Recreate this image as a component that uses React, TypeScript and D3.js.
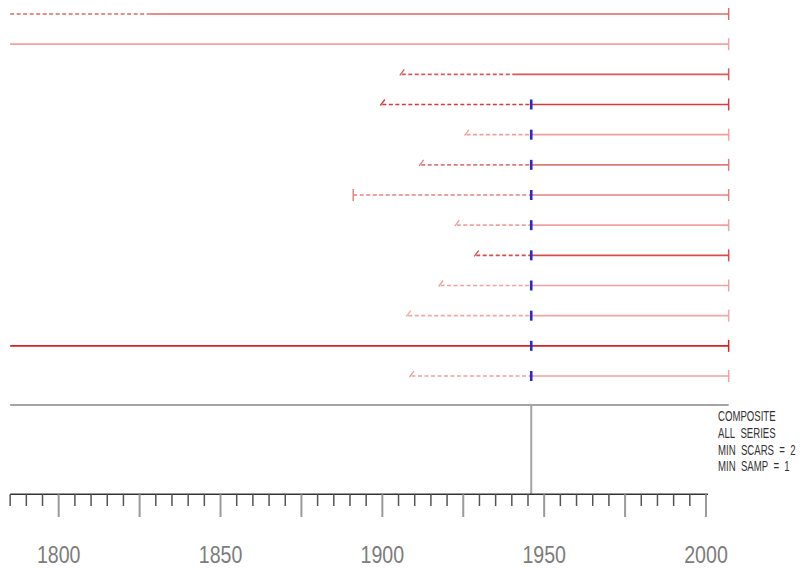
import React, { useRef, useEffect } from "react";
import * as d3 from "d3";

// fire history series, top to bottom
const innerYears = [1785, 1785, 1906, 1900, 1926, 1912, 1891, 1923, 1929, 1918, 1908, 1785, 1909];
const innerTypes = ["none", "none", "slash", "slash", "slash", "slash", "pith", "slash", "slash", "slash", "slash", "none", "slash"];
const recordingStart = [1828, 1785, 1941, 1946, 1946, 1946, 1946, 1946, 1946, 1946, 1946, 1785, 1946];
const outerYears = [2007, 2007, 2007, 2007, 2007, 2007, 2007, 2007, 2007, 2007, 2007, 2007, 2007];
const scarYears = [[], [], [], [1946], [1946], [1946], [1946], [1946], [1946], [1946], [1946], [1946], [1946]];
const compositeYears = [1946];
const compositeText = ["COMPOSITE", "ALL\u00a0\u00a0SERIES", "MIN\u00a0\u00a0SCARS\u00a0\u00a0=\u00a0\u00a02", "MIN\u00a0\u00a0SAMP\u00a0\u00a0=\u00a0\u00a01"];
const tickLabels = [1800, 1850, 1900, 1950, 2000];

const lineColors = ["#dc6868", "#f2a2a2", "#dc5858", "#d83a3a", "#f0a0a0", "#e07a7a", "#e48282",
  "#f0a0a0", "#d84c4c", "#f0a0a0", "#f2a6a6", "#d42222", "#f0a0a0"];

function FireChart() {
    const svgRef = useRef(null);

    useEffect(() => {
        const svg = d3.select(svgRef.current);
        svg.selectAll("*").remove();

        const x = d3.scaleLinear().domain([1800, 2000]).range([58.7, 706]);
        const y = d3.scalePoint().domain(d3.range(innerYears.length)).range([14, 376]);

        const rows = svg.selectAll("g.row")
            .data(innerYears.map((d, i) => i))
            .join("g")
            .attr("class", "row");

        // non-recording (dashed) part
        rows.filter((i) => recordingStart[i] > innerYears[i])
            .append("line")
            .attr("x1", (i) => x(innerYears[i]))
            .attr("x2", (i) => x(recordingStart[i]))
            .attr("y1", (i) => y(i))
            .attr("y2", (i) => y(i))
            .attr("stroke", (i) => lineColors[i])
            .attr("stroke-width", 1.6)
            .attr("stroke-dasharray", "4,2.5");

        // recording (solid) part
        rows.append("line")
            .attr("x1", (i) => x(recordingStart[i]))
            .attr("x2", (i) => x(outerYears[i]))
            .attr("y1", (i) => y(i))
            .attr("y2", (i) => y(i))
            .attr("stroke", (i) => lineColors[i])
            .attr("stroke-width", 1.6);

        // outer end cap
        rows.append("line")
            .attr("x1", (i) => x(outerYears[i]))
            .attr("x2", (i) => x(outerYears[i]))
            .attr("y1", (i) => y(i) - 6)
            .attr("y2", (i) => y(i) + 6)
            .attr("stroke", (i) => lineColors[i])
            .attr("stroke-width", 1.5);

        // inner ring marker
        rows.filter((i) => innerTypes[i] === "slash")
            .append("line")
            .attr("x1", (i) => x(innerYears[i]) - 2)
            .attr("x2", (i) => x(innerYears[i]) + 2.5)
            .attr("y1", (i) => y(i) + 1)
            .attr("y2", (i) => y(i) - 5)
            .attr("stroke", (i) => lineColors[i])
            .attr("stroke-width", 1.3);

        // pith marker
        rows.filter((i) => innerTypes[i] === "pith")
            .append("line")
            .attr("x1", (i) => x(innerYears[i]))
            .attr("x2", (i) => x(innerYears[i]))
            .attr("y1", (i) => y(i) - 6)
            .attr("y2", (i) => y(i) + 6)
            .attr("stroke", (i) => lineColors[i])
            .attr("stroke-width", 1.5);

        // fire scars
        rows.selectAll("rect.scar")
            .data((i) => scarYears[i].map((yr) => ({ yr, i })))
            .join("rect")
            .attr("class", "scar")
            .attr("x", (d) => x(d.yr) - 1.3)
            .attr("y", (d) => y(d.i) - 5)
            .attr("width", 2.6)
            .attr("height", 10)
            .attr("fill", "#2a2ac4");

        // composite
        const axisY = 494.3;
        const compY = 405;
        svg.append("line")
            .attr("x1", x(1785)).attr("x2", x(2007))
            .attr("y1", compY).attr("y2", compY)
            .attr("stroke", "#a4a4a4").attr("stroke-width", 2);

        svg.selectAll("line.comp")
            .data(compositeYears)
            .join("line")
            .attr("class", "comp")
            .attr("x1", (d) => x(d)).attr("x2", (d) => x(d))
            .attr("y1", compY).attr("y2", axisY)
            .attr("stroke", "#a4a4a4").attr("stroke-width", 2);

        svg.selectAll("text.comp")
            .data(compositeText)
            .join("text")
            .attr("class", "comp")
            .attr("transform", (d, i) => `translate(718,${421 + i * 16.8}) scale(0.62,1)`)
            .attr("font-family", "Liberation Sans, Arial, sans-serif")
            .attr("font-size", 15.5)
            .attr("fill", "#333")
            .text((d) => d);

        // time axis
        svg.append("line")
            .attr("x1", x(1785)).attr("x2", x(2000) + 2)
            .attr("y1", axisY).attr("y2", axisY)
            .attr("stroke", "#333").attr("stroke-width", 1.5);

        const ticks = d3.range(1785, 2001, 5);
        svg.selectAll("line.tick")
            .data(ticks)
            .join("line")
            .attr("class", "tick")
            .attr("x1", (d) => x(d)).attr("x2", (d) => x(d))
            .attr("y1", axisY)
            .attr("y2", (d) => (d % 25 === 0 ? 517 : 506))
            .attr("stroke", (d) => (d % 25 === 0 ? "#9a9a9a" : "#555"))
            .attr("stroke-width", (d) => (d % 25 === 0 ? 2 : 1.5));

        svg.selectAll("text.label")
            .data(tickLabels)
            .join("text")
            .attr("class", "label")
            .attr("transform", (d) => `translate(${x(d)},562.5) scale(0.8,1)`)
            .attr("text-anchor", "middle")
            .attr("font-family", "Liberation Sans, Arial, sans-serif")
            .attr("font-size", 24.5)
            .attr("fill", "#7c7c7c")
            .text((d) => d);
    }, []);

    return (
        <div style={{ position: "absolute", left: 0, top: 0, background: "#fff" }}>
            <svg ref={svgRef} width={808} height={571}></svg>
        </div>
    );
}

export default function App() {
    return <FireChart />;
}
